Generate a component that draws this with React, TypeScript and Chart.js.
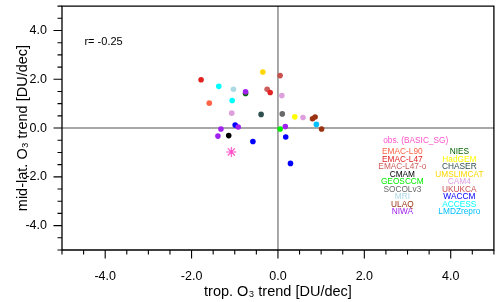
import React, { useEffect, useRef } from 'react';
import { Chart, registerables } from 'chart.js';

Chart.register(...registerables);

// ---------- data ----------
const models = [
  'EMAC-L90', 'EMAC-L47', 'EMAC-L47-o', 'CMAM', 'GEOSCCM', 'SOCOLv3', 'MRI', 'ULAQ', 'NIWA',
  'NIES', 'HadGEM', 'CHASER', 'UMSLIMCAT', 'CAM4', 'UKUKCA', 'WACCM', 'ACCESS', 'LMDZrepro',
];
const modelColors = [
  '#ff6347', '#e42222', '#cd5c5c', '#000000', '#00ee00', '#696969', '#add8e6', '#9a3212', '#a020f0',
  '#006400', '#ffff00', '#2f4f4f', '#ffd700', '#dda0dd', '#c8504d', '#0000ff', '#00ffff', '#00bfff',
];
// tropospheric O3 trend [DU/dec] per model
const tropTrend: number[][] = [
  [-1.59],
  [-1.78, -0.18],
  [-0.25],
  [-1.14],
  [0.05],
  [0.10],
  [-1.03],
  [0.80, 0.86, 1.01],
  [-0.75, -0.92, -1.32, -1.39, 0.17],
  [-0.75],
  [0.39],
  [-0.39],
  [-0.35],
  [0.09, -1.07, 0.58],
  [0.05],
  [-0.99, -0.58, 0.18, 0.29],
  [-1.37, -1.06],
  [0.89],
];
// mid-latitude O3 trend [DU/dec] per model
const midlatTrend: number[][] = [
  [1.02],
  [1.98, 1.46],
  [1.59],
  [-0.31],
  [-0.04],
  [0.58],
  [1.59],
  [0.38, 0.45, -0.04],
  [1.49, 0.04, -0.04, -0.33, 0.06],
  [1.42],
  [0.46],
  [0.56],
  [2.30],
  [1.33, 0.61, 0.43],
  [2.15],
  [0.12, -0.55, -0.37, -1.45],
  [1.71, 1.13],
  [0.15],
];
const obsName = 'obs. (BASIC_SG)';
const obsColor = '#ff50c8';
const obsTrop = [-1.08];
const obsMidlat = [-0.98];
const xTickValues = [-4, -2, 0, 2, 4];
const yTickValues = [-4, -2, 0, 2, 4];
const correlationText = 'r= -0.25';
const xTitle = 'trop. O\u2083 trend [DU/dec]';
const yTitle = 'mid-lat. O\u2083 trend [DU/dec]';

const FONT = "'Liberation Sans', Arial, Helvetica, sans-serif";

const decorPlugin = {
  id: 'decor',
  beforeDatasetsDraw(chart: any) {
    const { ctx, chartArea: a, scales } = chart;
    const x0 = scales.x.getPixelForValue(0);
    const y0 = scales.y.getPixelForValue(0);
    ctx.save();
    ctx.strokeStyle = '#8c8c8c';
    ctx.lineWidth = 1.5;
    ctx.beginPath();
    ctx.moveTo(x0, a.top);
    ctx.lineTo(x0, a.bottom);
    ctx.moveTo(a.left, y0);
    ctx.lineTo(a.right, y0);
    ctx.stroke();
    ctx.restore();
  },
  afterDraw(chart: any) {
    const { ctx, chartArea: a, scales } = chart;
    const xs = scales.x;
    const ys = scales.y;
    ctx.save();
    // frame
    ctx.strokeStyle = '#000000';
    ctx.lineWidth = 1.3;
    ctx.beginPath();
    ctx.moveTo(a.left, a.top);
    ctx.lineTo(a.right, a.top);
    ctx.lineTo(a.right, a.bottom);
    ctx.lineTo(a.left, a.bottom);
    ctx.closePath();
    ctx.stroke();
    // ticks (outward) on left and bottom
    ctx.lineWidth = 1.1;
    ctx.beginPath();
    for (let i = -10; i <= 10; i++) {
      const v = i / 2;
      const major = Number.isInteger(v) && v % 2 === 0;
      const len = major ? 8.5 : 4.5;
      const px = xs.getPixelForValue(v);
      ctx.moveTo(px, a.bottom);
      ctx.lineTo(px, a.bottom + len);
      const py = ys.getPixelForValue(v);
      ctx.moveTo(a.left, py);
      ctx.lineTo(a.left - len, py);
    }
    ctx.stroke();

    // correlation text
    ctx.fillStyle = '#000';
    ctx.font = `11px ${FONT}`;
    ctx.textAlign = 'left';
    ctx.textBaseline = 'middle';
    ctx.fillText(correlationText, xs.getPixelForValue(-4.48), ys.getPixelForValue(3.52));

    // legend text
    ctx.font = `8.3px ${FONT}`;
    ctx.textAlign = 'center';
    ctx.fillStyle = obsColor;
    ctx.fillText(obsName, xs.getPixelForValue(3.19), ys.getPixelForValue(-0.51));
    const half = Math.ceil(models.length / 2);
    models.forEach((m, i) => {
      const col = i < half ? 0 : 1;
      const row = i < half ? i : i - half;
      const xv = col === 0 ? 2.88 : 4.2;
      const yv = -0.976 - row * 0.309;
      ctx.fillStyle = modelColors[i];
      ctx.fillText(m, xs.getPixelForValue(xv), ys.getPixelForValue(yv));
    });
    ctx.restore();
  },
};

export default function App() {
  const ref = useRef<HTMLCanvasElement>(null);
  useEffect(() => {
    document.body.style.margin = '0';
    Chart.defaults.font.family = FONT;
    const datasets: any[] = models.map((m, i) => ({
      label: m,
      data: tropTrend[i].map((x, j) => ({ x, y: midlatTrend[i][j] })),
      backgroundColor: modelColors[i],
      borderColor: modelColors[i],
      borderWidth: 0,
      pointRadius: 2.8,
      pointStyle: 'circle',
    }));
    datasets.push({
      label: obsName,
      data: obsTrop.map((x, j) => ({ x, y: obsMidlat[j] })),
      backgroundColor: obsColor,
      borderColor: obsColor,
      borderWidth: 1.1,
      pointRadius: 5,
      pointStyle: 'star',
    });
    const chart = new Chart(ref.current!, {
      type: 'scatter',
      data: { datasets },
      options: {
        animation: false,
        responsive: false,
        devicePixelRatio: 1,
        layout: { padding: { top: 4, right: 5, left: 0, bottom: 0 } },
        plugins: { legend: { display: false }, tooltip: { enabled: false } },
        scales: {
          x: {
            type: 'linear',
            min: -5,
            max: 5,
            afterFit: (s: any) => {
              s.height = 52;
              s.paddingLeft = 0;
              s.paddingRight = 0;
              s.paddingTop = 0;
              s.paddingBottom = 0;
            },
            afterBuildTicks: (s: any) => { s.ticks = xTickValues.map((v) => ({ value: v })); },
            grid: { display: false, drawTicks: false },
            border: { display: false },
            ticks: {
              padding: 19,
              color: '#000',
              font: { size: 12.5, family: FONT },
              callback: (v: any) => Number(v).toFixed(1),
            },
            title: {
              display: true,
              text: xTitle,
              color: '#000',
              font: { size: 14.5, family: FONT },
              padding: { top: 0, bottom: 1 },
            },
          },
          y: {
            type: 'linear',
            min: -5,
            max: 5,
            afterFit: (s: any) => {
              s.width = 62;
              s.paddingLeft = 0;
              s.paddingRight = 0;
              s.paddingTop = 0;
              s.paddingBottom = 0;
            },
            afterBuildTicks: (s: any) => { s.ticks = yTickValues.map((v) => ({ value: v })); },
            grid: { display: false, drawTicks: false },
            border: { display: false },
            ticks: {
              padding: 15,
              color: '#000',
              font: { size: 12.5, family: FONT },
              callback: (v: any) => Number(v).toFixed(1),
            },
            title: {
              display: true,
              text: yTitle,
              color: '#000',
              font: { size: 14.5, family: FONT },
              padding: { top: 14.5, bottom: 0 },
            },
          },
        },
      },
      plugins: [decorPlugin],
    });
    return () => chart.destroy();
  }, []);
  return (
    <div style={{ width: 500, height: 302 }}>
      <canvas ref={ref} width={500} height={302} style={{ display: 'block' }} />
    </div>
  );
}
